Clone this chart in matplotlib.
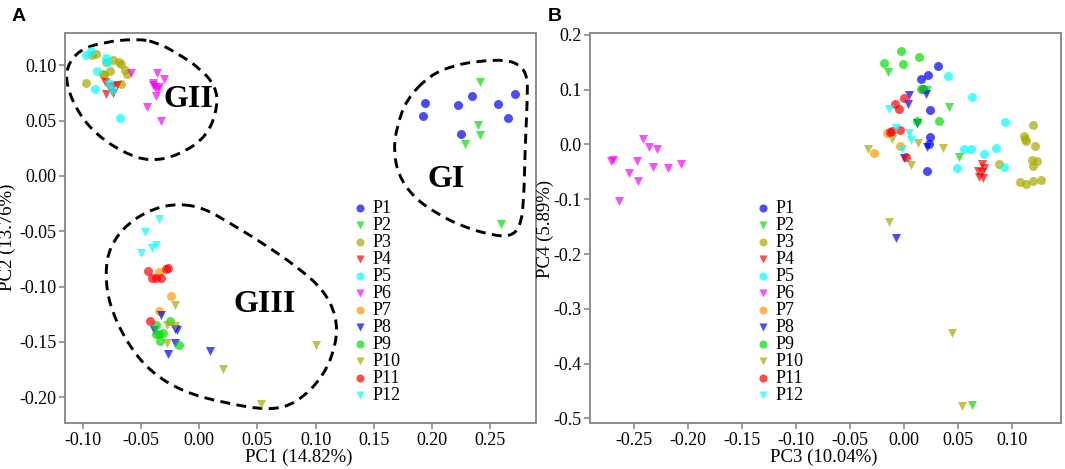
import matplotlib
matplotlib.use("Agg")
import matplotlib.pyplot as plt
from matplotlib.path import Path
from matplotlib.patches import PathPatch
from matplotlib.ticker import FormatStrFormatter

plt.rcParams["font.family"] = ["Liberation Serif", "DejaVu Serif"]

groups = ["P1", "P2", "P3", "P4", "P5", "P6", "P7", "P8", "P9", "P10", "P11", "P12"]
colors = ["#0000ff", "#00e000", "#aaaa00", "#ff0000", "#00ffff", "#ff00ff",
          "#ff9900", "#0000ff", "#00e000", "#aaaa00", "#ff0000", "#00ffff"]
markers = ["o", "v", "o", "v", "o", "v", "o", "v", "o", "v", "o", "v"]

# panel A: PC1 / PC2
a_p1 = [[0.194, 0.192, 0.222, 0.234, 0.225, 0.257, 0.265, 0.271],
        [0.066, 0.054, 0.064, 0.072, 0.038, 0.065, 0.052, 0.074]]
a_p2 = [[0.241, 0.240, 0.241, 0.228, 0.259],
        [0.085, 0.046, 0.037, 0.029, -0.043]]
a_p3 = [[-0.092, -0.089, -0.080, -0.074, -0.069, -0.067, -0.064, -0.062, -0.077, -0.083, -0.082, -0.097, -0.067],
        [0.109, 0.110, 0.103, 0.105, 0.103, 0.101, 0.096, 0.092, 0.095, 0.092, 0.091, 0.084, 0.083]]
a_p4 = [[-0.081, -0.080, -0.074, -0.071, -0.074, -0.078],
        [0.085, 0.074, 0.081, 0.082, 0.075, 0.080]]
a_p5 = [[-0.097, -0.093, -0.080, -0.079, -0.088, -0.090, -0.078, -0.075, -0.068],
        [0.109, 0.113, 0.107, 0.103, 0.095, 0.079, 0.084, 0.078, 0.052]]
a_p6 = [[-0.059, -0.036, -0.030, -0.040, -0.040, -0.038, -0.036, -0.035, -0.037, -0.045, -0.033],
        [0.093, 0.093, 0.088, 0.084, 0.082, 0.080, 0.079, 0.080, 0.072, 0.062, 0.050]]
a_p7 = [[-0.035, -0.024, -0.035],
        [-0.087, -0.108, -0.122]]
a_p8 = [[-0.033, -0.039, -0.021, -0.019, -0.021, -0.027, 0.009],
        [-0.126, -0.139, -0.138, -0.139, -0.151, -0.161, -0.158]]
a_p9 = [[-0.037, -0.025, -0.035, -0.031, -0.034, -0.017, -0.037],
        [-0.135, -0.131, -0.143, -0.142, -0.149, -0.153, -0.143]]
a_p10 = [[-0.021, -0.028, -0.021, -0.028, 0.020, 0.053, 0.100],
         [-0.117, -0.135, -0.136, -0.151, -0.174, -0.206, -0.153]]
a_p11 = [[-0.044, -0.041, -0.037, -0.033, -0.029, -0.027, -0.042],
         [-0.086, -0.092, -0.092, -0.092, -0.084, -0.083, -0.131]]
a_p12 = [[-0.035, -0.047, -0.041, -0.037, -0.050],
         [-0.039, -0.051, -0.065, -0.062, -0.070]]

# panel B: PC3 / PC4
b_p1 = [[0.031, 0.022, 0.015, 0.017, 0.024, 0.024, 0.023, 0.021],
        [0.143, 0.127, 0.119, 0.101, 0.063, 0.013, 0.000, -0.048]]
b_p2 = [[-0.015, 0.021, 0.041, 0.012, 0.051, 0.063],
        [0.132, 0.099, 0.069, 0.039, -0.022, -0.476]]
b_p3 = [[0.119, 0.111, 0.113, 0.121, 0.088, 0.118, 0.123, 0.119, 0.107, 0.113, 0.119, 0.126, 0.112],
        [0.036, 0.015, 0.007, -0.002, -0.035, -0.029, -0.031, -0.040, -0.069, -0.073, -0.067, -0.064, 0.010]]
b_p4 = [[0.072, 0.074, 0.068, 0.072, 0.069, 0.073],
        [-0.035, -0.043, -0.049, -0.051, -0.060, -0.061]]
b_p5 = [[0.040, 0.063, 0.093, 0.055, 0.062, 0.074, 0.085, 0.092, 0.049],
        [0.125, 0.087, 0.041, -0.009, -0.008, -0.017, -0.007, -0.041, -0.043]]
b_p6 = [[-0.271, -0.269, -0.242, -0.236, -0.229, -0.247, -0.255, -0.246, -0.232, -0.219, -0.207, -0.264],
        [-0.031, -0.028, 0.010, -0.005, -0.008, -0.031, -0.052, -0.066, -0.041, -0.043, -0.035, -0.104]]
b_p7 = [[-0.016, -0.004, -0.028],
        [0.021, -0.003, -0.016]]
b_p8 = [[0.004, 0.020, 0.003, 0.021, 0.000, -0.008, 0.012],
        [0.091, 0.093, 0.073, -0.005, -0.025, -0.171, 0.040]]
b_p9 = [[-0.003, -0.019, -0.001, 0.014, 0.015, 0.012, 0.032],
        [0.171, 0.149, 0.146, 0.159, 0.102, 0.042, 0.043]]
b_p10 = [[-0.034, -0.011, 0.013, 0.036, 0.006, -0.014, 0.044, 0.053],
         [-0.008, 0.010, 0.003, -0.006, -0.038, -0.142, -0.344, -0.477]]
b_p11 = [[0.000, -0.009, -0.005, -0.011, -0.004, 0.002, -0.013],
         [0.085, 0.073, 0.064, 0.024, 0.027, -0.022, 0.023]]
b_p12 = [[-0.014, -0.008, 0.004, 0.006, -0.002],
         [0.064, 0.030, 0.021, 0.009, -0.008]]

# dashed group outlines (panel A)
gi_x = [0.198, 0.219, 0.241, 0.264, 0.276, 0.282, 0.282, 0.280, 0.279, 0.276,
        0.267, 0.250, 0.227, 0.204, 0.184, 0.171, 0.167, 0.170, 0.178]
gi_y = [0.091, 0.100, 0.104, 0.105, 0.100, 0.090, 0.069, 0.024, -0.022, -0.046,
        -0.055, -0.053, -0.046, -0.034, -0.019, 0.001, 0.024, 0.045, 0.069]
gii_x = [-0.054, -0.082, -0.103, -0.114, -0.114, -0.104, -0.088, -0.065, -0.042,
         -0.017, 0.007, 0.016, 0.014, 0.001, -0.019, -0.037]
gii_y = [0.124, 0.121, 0.114, 0.099, 0.081, 0.057, 0.037, 0.021, 0.013,
         0.019, 0.036, 0.063, 0.081, 0.097, 0.111, 0.121]
giii_x = [-0.017, -0.039, -0.062, -0.077, -0.081, -0.077, -0.062, -0.042, -0.014, 0.021,
          0.061, 0.084, 0.107, 0.118, 0.118, 0.107, 0.084, 0.055, 0.027, 0.004]
giii_y = [-0.025, -0.029, -0.043, -0.064, -0.088, -0.118, -0.151, -0.177, -0.195, -0.205,
          -0.212, -0.205, -0.181, -0.151, -0.127, -0.103, -0.082, -0.061, -0.043, -0.029]

panel_a = [a_p1, a_p2, a_p3, a_p4, a_p5, a_p6, a_p7, a_p8, a_p9, a_p10, a_p11, a_p12]
panel_b = [b_p1, b_p2, b_p3, b_p4, b_p5, b_p6, b_p7, b_p8, b_p9, b_p10, b_p11, b_p12]


def closed_curve(ax, xs, ys):
    pts = list(zip(xs, ys))
    n = len(pts)
    mid = lambda p, q: ((p[0] + q[0]) / 2, (p[1] + q[1]) / 2)
    verts = [mid(pts[-1], pts[0])]
    codes = [Path.MOVETO]
    for i in range(n):
        verts.append(pts[i])
        verts.append(mid(pts[i], pts[(i + 1) % n]))
        codes += [Path.CURVE3, Path.CURVE3]
    patch = PathPatch(Path(verts, codes), fill=False, ec="black", lw=2.1,
                      ls=(0, (3.4, 2.2)), clip_on=False)
    ax.add_patch(patch)


def style_axes(ax):
    for s in ax.spines.values():
        s.set_color("#8c8c8c")
        s.set_linewidth(1.4)
    ax.tick_params(colors="#8c8c8c", labelcolor="black", labelsize=13, length=4,
                   width=1.2, pad=2)


def draw_points(ax, data):
    for i in range(len(groups)):
        ax.scatter(data[i][0], data[i][1], s=42, marker=markers[i], color=colors[i],
                   alpha=0.7, linewidths=0, label=groups[i], zorder=3)


def add_legend(ax, x, y):
    ax.legend(loc="upper left", bbox_to_anchor=(x, y), frameon=False, fontsize=13,
              handletextpad=0.1, labelspacing=0.0, borderpad=0, handlelength=1.2,
              markerscale=0.9)


fig = plt.figure(figsize=(10.65, 4.69), dpi=100)

ax1 = fig.add_axes([0.0607, 0.0974, 0.4430, 0.8329])
draw_points(ax1, panel_a)
closed_curve(ax1, gi_x, gi_y)
closed_curve(ax1, gii_x, gii_y)
closed_curve(ax1, giii_x, giii_y)
ax1.text(-0.009, 0.0687, "GII", fontsize=23, fontweight="bold", ha="center", va="center")
ax1.text(0.2125, -0.0036, "GI", fontsize=23, fontweight="bold", ha="center", va="center")
ax1.text(0.0566, -0.1157, "GIII", fontsize=23, fontweight="bold", ha="center", va="center")
ax1.set_xlim(-0.1157, 0.2898)
ax1.set_ylim(-0.2235, 0.1295)
ax1.set_xticks([-0.10, -0.05, 0.00, 0.05, 0.10, 0.15, 0.20, 0.25])
ax1.set_yticks([-0.20, -0.15, -0.10, -0.05, 0.00, 0.05, 0.10])
ax1.xaxis.set_major_formatter(FormatStrFormatter("%.2f"))
ax1.yaxis.set_major_formatter(FormatStrFormatter("%.2f"))
ax1.set_xlabel("PC1 (14.82%)", fontsize=13.5)
ax1.set_ylabel("PC2 (13.76%)", fontsize=13.5)
ax1.xaxis.set_label_coords(0.496, -0.066)
ax1.yaxis.set_label_coords(-0.103, 0.477)
style_axes(ax1)
add_legend(ax1, 0.583, 0.595)

ax2 = fig.add_axes([0.554, 0.0974, 0.4423, 0.8329])
draw_points(ax2, panel_b)
ax2.set_xlim(-0.2907, 0.145)
ax2.set_ylim(-0.509, 0.204)
ax2.set_xticks([-0.25, -0.20, -0.15, -0.10, -0.05, 0.00, 0.05, 0.10])
ax2.set_yticks([-0.5, -0.4, -0.3, -0.2, -0.1, 0.0, 0.1, 0.2])
ax2.xaxis.set_major_formatter(FormatStrFormatter("%.2f"))
ax2.yaxis.set_major_formatter(FormatStrFormatter("%.1f"))
ax2.set_xlabel("PC3 (10.04%)", fontsize=13.5)
ax2.set_ylabel("PC4 (5.89%)", fontsize=13.5)
ax2.xaxis.set_label_coords(0.496, -0.066)
ax2.yaxis.set_label_coords(-0.076, 0.497)
style_axes(ax2)
add_legend(ax2, 0.325, 0.595)

fig.text(0.011, 0.965, "A", fontsize=14, fontweight="bold", family="Liberation Sans", va="center")
fig.text(0.514, 0.965, "B", fontsize=14, fontweight="bold", family="Liberation Sans", va="center")

fig.savefig("out.png", dpi=100)
